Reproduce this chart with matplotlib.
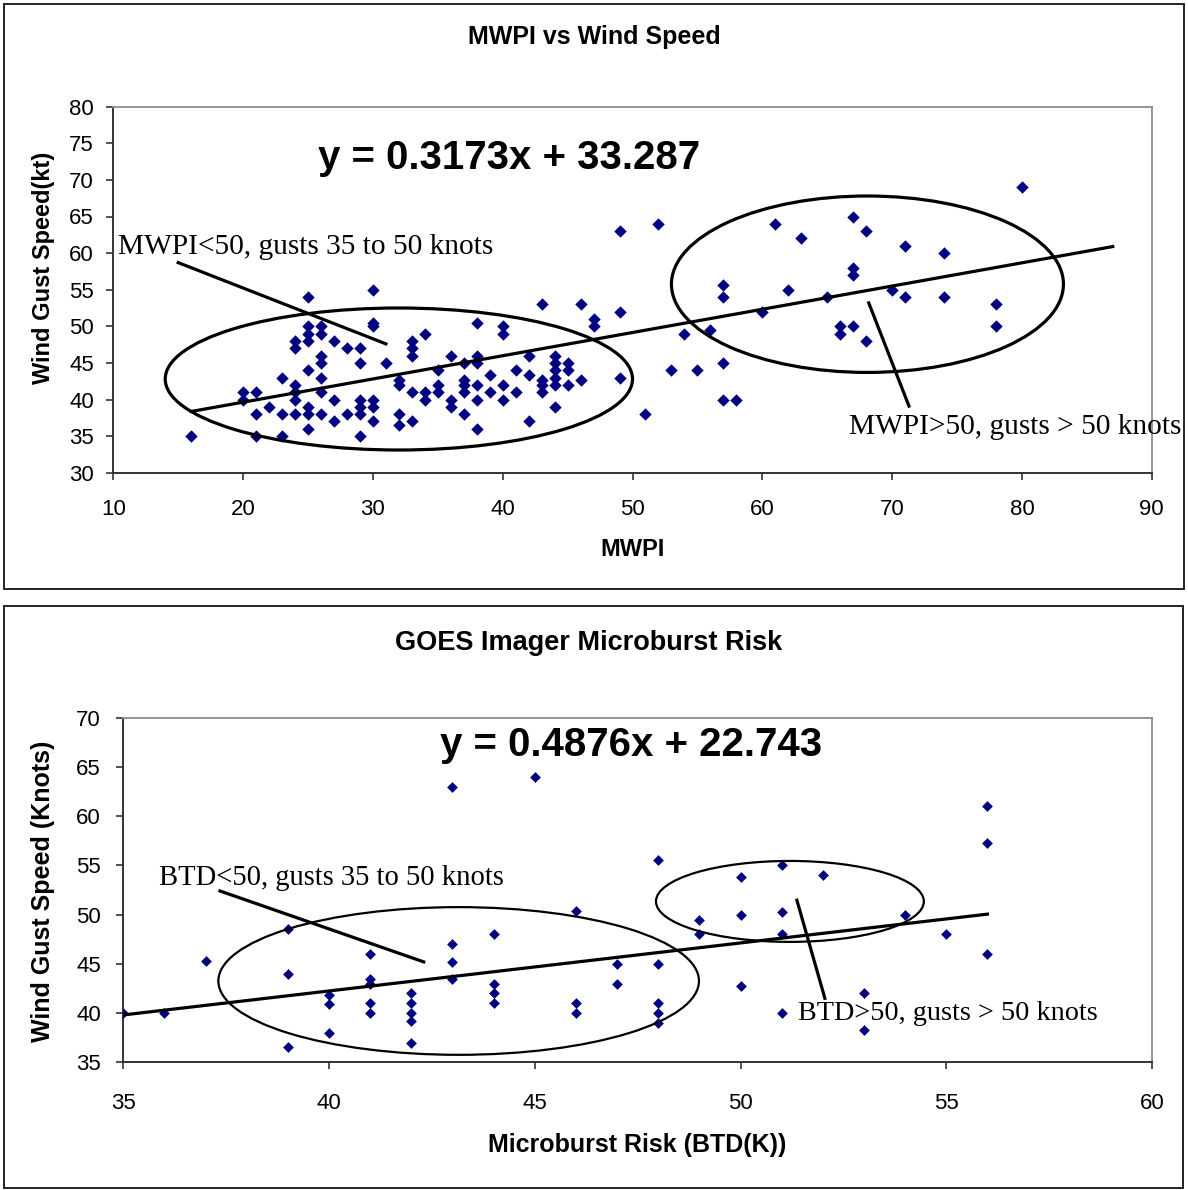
import matplotlib
matplotlib.use("Agg")
import matplotlib.pyplot as plt
from matplotlib.patches import Ellipse, Rectangle
import numpy as np

plt.rcParams["font.family"] = ["Liberation Sans", "DejaVu Sans"]

W, H = 1188, 1190
NAVY = "#000080"

# ---- top chart: MWPI vs wind gust ----
mwpi_x = [16, 20, 20, 21, 21, 21, 22, 23, 23, 23,
          24, 24, 24, 24, 24, 24,
          25, 25, 25, 25, 25, 25, 25, 25,
          26, 26, 26, 26, 26, 26, 26,
          27, 27, 27, 28, 28,
          29, 29, 29, 29, 29, 29,
          30, 30, 30, 30, 30, 30, 31,
          32, 32, 32, 32, 33, 33, 33, 33, 33,
          34, 34, 34, 35, 35, 35, 36, 36, 36,
          37, 37, 37, 37, 37, 38, 38, 38, 38, 38, 38,
          39, 39, 40, 40, 40, 40, 41, 41, 42, 42, 42,
          43, 43, 43, 43, 44, 44, 44, 44, 44, 44,
          45, 45, 45, 46, 46, 47, 47, 49, 49, 49,
          51, 52, 53, 54, 55, 56, 57, 57, 57, 57, 58,
          60, 61, 62, 63, 65, 66, 66, 67, 67, 67, 67,
          68, 68, 70, 71, 71, 74, 74, 78, 78, 80]
mwpi_gust = [35, 41, 40, 41, 38, 35, 39, 43, 38, 35,
             48, 47, 42, 41, 40, 38,
             54, 50, 49, 48, 44, 39, 38, 36,
             50, 49, 46, 45, 43, 41, 38,
             48, 40, 37, 47, 38,
             47, 45, 40, 39, 38, 35,
             55, 50.5, 50, 40, 39, 37, 45,
             42.7, 42, 38, 36.5, 48, 47, 46, 41, 37,
             49, 41, 40, 44, 42, 41, 46, 40, 39,
             45, 42.7, 42, 41, 38, 50.5, 46, 45, 42, 40, 36,
             43.3, 41, 50, 49, 42, 40, 44, 41, 46, 43.3, 37,
             53, 42.7, 42, 41, 46, 45, 44, 43, 42, 39,
             45, 44, 42, 53, 42.7, 51, 50, 63, 52, 43,
             38, 64, 44, 49, 44, 49.5, 55.6, 54, 45, 40, 40,
             52, 64, 55, 62, 54, 50, 49, 65, 58, 57, 50,
             63, 48, 55, 61, 54, 60, 54, 53, 50, 69]
mwpi_slope, mwpi_icept = 0.3173, 33.287
mwpi_fit_range = [16, 87]

# ---- bottom chart: GOES microburst risk vs wind gust ----
btd_x = [35, 36, 37, 39, 39, 39, 40, 40, 40,
         41, 41, 41, 41, 41, 42, 42, 42, 42, 42,
         43, 43, 43, 43, 44, 44, 44, 44, 45,
         46, 46, 46, 47, 47, 48, 48, 48, 48, 48,
         49, 49, 50, 50, 50, 51, 51, 51, 51, 52,
         53, 53, 54, 55, 56, 56, 56]
btd_gust = [40, 40, 45.3, 48.5, 44, 36.6, 41.8, 40.9, 38,
            46, 43.5, 43, 41, 40, 42, 41, 40, 39.2, 37,
            63, 47, 45.2, 43.5, 48, 43, 42, 41, 64,
            50.4, 41, 40, 45, 43, 55.5, 45, 41, 40, 39,
            49.5, 48, 53.8, 50, 42.7, 55, 50.3, 48, 40, 54,
            42, 38.3, 50, 48, 61, 57.3, 46]
btd_slope, btd_icept = 0.4876, 22.743
btd_fit_range = [35, 56]


def px_box(left, top, right, bottom):
    """pixel box (from top-left) -> figure fraction rect"""
    return [left / W, 1 - bottom / H, (right - left) / W, (bottom - top) / H]


def style_axes(ax, xpad, ypad):
    for side in ("top", "right"):
        ax.spines[side].set_color("#8c8c8c")
        ax.spines[side].set_linewidth(1.3)
    for side in ("left", "bottom"):
        ax.spines[side].set_color("#333333")
        ax.spines[side].set_linewidth(1.4)
    ax.tick_params(direction="out", length=5, width=1.2, color="#333333",
                   labelsize=16, top=False, right=False)
    ax.tick_params(axis="x", pad=xpad)
    ax.tick_params(axis="y", pad=ypad)


fig = plt.figure(figsize=(W / 100, H / 100), dpi=100)

# panel frames
for box in [(4, 3.5, 1183.5, 589), (4, 605.5, 1183, 1187.5)]:
    r = px_box(*box)
    fig.add_artist(Rectangle(r[:2], r[2], r[3], transform=fig.transFigure,
                             fill=False, edgecolor="#222222", linewidth=1.4))

# ---------------- top ----------------
ax1 = fig.add_axes(px_box(113.3, 106.7, 1151.7, 472.7))
ax1.scatter(mwpi_x, mwpi_gust, marker="D", s=40, color=NAVY, linewidths=0, zorder=3)
fx = np.array(mwpi_fit_range)
ax1.plot(fx, mwpi_slope * fx + mwpi_icept, color="black", lw=2.3, zorder=4)
ax1.add_patch(Ellipse((32.0, 42.8), 36.0, 19.4, fill=False, edgecolor="black", lw=2.3, zorder=4))
ax1.add_patch(Ellipse((68.1, 55.75), 30.2, 24.1, fill=False, edgecolor="black", lw=2.3, zorder=4))
ax1.plot([15.0, 31.0], [58.7, 47.6], color="black", lw=2.3, zorder=4)
ax1.plot([68.2, 71.3], [53.2, 39.1], color="black", lw=2.3, zorder=4)
ax1.text(10.36, 60.8, "MWPI<50, gusts 35 to 50 knots", family="Liberation Serif",
         fontsize=21.2, va="center", ha="left")
ax1.text(66.7, 36.3, "MWPI>50, gusts > 50 knots", family="Liberation Serif",
         fontsize=21.2, va="center", ha="left")
ax1.text(25.8, 73.0, "y = 0.3173x + 33.287", fontsize=29, fontweight="bold",
         va="center", ha="left")
ax1.set_xlim(10, 90)
ax1.set_ylim(30, 80)
ax1.set_xticks(range(10, 91, 10))
ax1.set_yticks(range(30, 81, 5))
style_axes(ax1, xpad=14, ypad=9)
ax1.text(0.463, 1.19, "MWPI vs Wind Speed", transform=ax1.transAxes,
         fontsize=18, fontweight="bold", ha="center", va="center")
ax1.set_xlabel("MWPI", fontsize=17, fontweight="bold")
ax1.xaxis.set_label_coords(0.5005, -0.211)
ax1.xaxis.label.set_va("center")
ax1.set_ylabel("Wind Gust Speed(kt)", fontsize=17, fontweight="bold")
ax1.yaxis.set_label_coords(-0.0677, 0.559)
ax1.yaxis.label.set_va("center")

# ---------------- bottom ----------------
ax2 = fig.add_axes(px_box(123.3, 717.7, 1152, 1062.3))
ax2.scatter(btd_x, btd_gust, marker="D", s=30, color=NAVY, linewidths=0, zorder=3)
bx = np.array(btd_fit_range)
ax2.plot(bx, btd_slope * bx + btd_icept, color="black", lw=2.3, zorder=4)
ax2.add_patch(Ellipse((43.15, 43.26), 11.68, 15.0, fill=False, edgecolor="black", lw=1.6, zorder=4))
ax2.add_patch(Ellipse((51.2, 51.34), 6.51, 8.22, fill=False, edgecolor="black", lw=1.6, zorder=4))
ax2.plot([37.35, 42.3], [52.4, 45.2], color="black", lw=2.3, zorder=4)
ax2.plot([51.37, 52.05], [51.46, 41.5], color="black", lw=2.3, zorder=4)
ax2.text(35.87, 53.7, "BTD<50, gusts 35 to 50 knots", family="Liberation Serif",
         fontsize=20.6, va="center", ha="left")
ax2.text(51.4, 40.0, "BTD>50, gusts > 50 knots", family="Liberation Serif",
         fontsize=20.3, va="center", ha="left")
ax2.text(42.7, 67.2, "y = 0.4876x + 22.743", fontsize=29, fontweight="bold",
         va="center", ha="left")
ax2.set_xlim(35, 60)
ax2.set_ylim(35, 70)
ax2.set_xticks(range(35, 61, 5))
ax2.set_yticks(range(35, 71, 5))
style_axes(ax2, xpad=17, ypad=11)
ax2.text(0.452, 1.217, "GOES Imager Microburst Risk", transform=ax2.transAxes,
         fontsize=19.5, fontweight="bold", ha="center", va="center")
ax2.set_xlabel("Microburst Risk (BTD(K))", fontsize=18, fontweight="bold")
ax2.xaxis.set_label_coords(0.4994, -0.24)
ax2.xaxis.label.set_va("center")
ax2.set_ylabel("Wind Gust Speed (Knots)", fontsize=18, fontweight="bold")
ax2.yaxis.set_label_coords(-0.078, 0.497)
ax2.yaxis.label.set_va("center")

fig.savefig("out.png", dpi=100)
